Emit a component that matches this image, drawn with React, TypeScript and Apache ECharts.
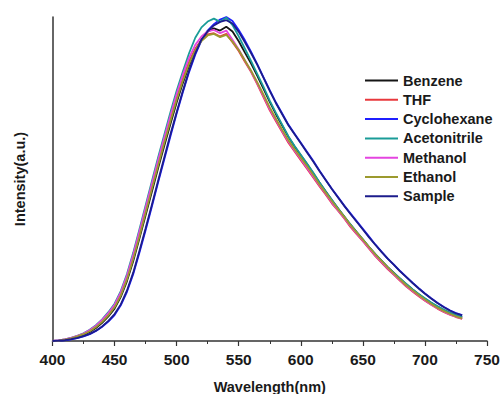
import React, { useEffect, useRef } from "react";
import * as echarts from "echarts";

const wavelengths: number[] = [];
for (let w = 400; w <= 730; w += 5) wavelengths.push(w);

const seriesNames = ["Benzene", "THF", "Cyclohexane", "Acetonitrile", "Methanol", "Ethanol", "Sample"];
const seriesColors = ["#151515", "#e8383d", "#1f1fff", "#1a9c98", "#e445e0", "#9c9a2e", "#1c1c8c"];

const benzene = [
  0.000, 0.001, 0.003, 0.007, 0.012, 0.019, 0.028, 0.040, 0.056, 0.076,
  0.100, 0.136, 0.185, 0.246, 0.316, 0.388, 0.460, 0.532, 0.602, 0.670,
  0.736, 0.796, 0.850, 0.898, 0.930, 0.955, 0.965, 0.958, 0.970, 0.955,
  0.925, 0.890, 0.856, 0.818, 0.778, 0.738, 0.700, 0.665, 0.630, 0.600,
  0.573, 0.546, 0.518, 0.489, 0.462, 0.435, 0.409, 0.384, 0.359, 0.336,
  0.313, 0.290, 0.268, 0.248, 0.228, 0.210, 0.192, 0.175, 0.159, 0.144,
  0.130, 0.118, 0.106, 0.096, 0.087, 0.079, 0.073,
];
const thf = [
  0.000, 0.002, 0.005, 0.009, 0.015, 0.022, 0.032, 0.045, 0.062, 0.083,
  0.108, 0.145, 0.196, 0.260, 0.330, 0.404, 0.478, 0.550, 0.620, 0.688,
  0.754, 0.812, 0.862, 0.902, 0.928, 0.946, 0.950, 0.940, 0.948, 0.922,
  0.895, 0.862, 0.830, 0.792, 0.752, 0.712, 0.678, 0.645, 0.612, 0.585,
  0.558, 0.532, 0.505, 0.478, 0.452, 0.425, 0.402, 0.378, 0.352, 0.330,
  0.308, 0.285, 0.262, 0.242, 0.222, 0.204, 0.186, 0.168, 0.153, 0.138,
  0.124, 0.112, 0.100, 0.090, 0.081, 0.074, 0.068,
];
const cyclohexane = [
  0.000, 0.001, 0.002, 0.005, 0.009, 0.014, 0.021, 0.031, 0.044, 0.060,
  0.080, 0.110, 0.152, 0.206, 0.272, 0.342, 0.414, 0.488, 0.560, 0.632,
  0.702, 0.768, 0.830, 0.884, 0.928, 0.958, 0.978, 0.992, 1.000, 0.988,
  0.960, 0.928, 0.892, 0.854, 0.814, 0.774, 0.736, 0.702, 0.668, 0.640,
  0.612, 0.584, 0.556, 0.526, 0.498, 0.470, 0.444, 0.418, 0.394, 0.370,
  0.346, 0.322, 0.298, 0.276, 0.254, 0.236, 0.216, 0.198, 0.180, 0.163,
  0.147, 0.132, 0.118, 0.106, 0.095, 0.086, 0.080,
];
const acetonitrile = [
  0.000, 0.002, 0.005, 0.010, 0.016, 0.024, 0.035, 0.049, 0.067, 0.089,
  0.115, 0.154, 0.207, 0.272, 0.344, 0.418, 0.492, 0.566, 0.636, 0.706,
  0.772, 0.832, 0.888, 0.936, 0.968, 0.986, 0.995, 0.985, 0.998, 0.975,
  0.940, 0.902, 0.864, 0.824, 0.784, 0.742, 0.704, 0.668, 0.632, 0.602,
  0.575, 0.548, 0.520, 0.490, 0.462, 0.436, 0.410, 0.384, 0.360, 0.336,
  0.314, 0.290, 0.268, 0.248, 0.228, 0.210, 0.193, 0.176, 0.160, 0.145,
  0.132, 0.119, 0.108, 0.097, 0.088, 0.080, 0.074,
];
const methanol = [
  0.000, 0.002, 0.005, 0.010, 0.016, 0.023, 0.034, 0.047, 0.065, 0.086,
  0.112, 0.150, 0.202, 0.266, 0.338, 0.411, 0.485, 0.557, 0.627, 0.696,
  0.762, 0.822, 0.874, 0.914, 0.940, 0.956, 0.960, 0.950, 0.958, 0.930,
  0.900, 0.866, 0.832, 0.795, 0.756, 0.716, 0.682, 0.648, 0.616, 0.588,
  0.562, 0.535, 0.508, 0.481, 0.455, 0.428, 0.404, 0.380, 0.355, 0.332,
  0.310, 0.287, 0.264, 0.244, 0.224, 0.206, 0.188, 0.170, 0.155, 0.140,
  0.126, 0.113, 0.101, 0.091, 0.082, 0.075, 0.069,
];
const ethanol = [
  0.000, 0.001, 0.004, 0.008, 0.014, 0.021, 0.030, 0.043, 0.059, 0.079,
  0.104, 0.140, 0.190, 0.252, 0.322, 0.395, 0.468, 0.540, 0.610, 0.678,
  0.744, 0.803, 0.855, 0.897, 0.926, 0.943, 0.948, 0.938, 0.945, 0.924,
  0.898, 0.866, 0.834, 0.798, 0.760, 0.721, 0.686, 0.652, 0.620, 0.592,
  0.566, 0.540, 0.512, 0.484, 0.458, 0.432, 0.407, 0.383, 0.358, 0.335,
  0.313, 0.290, 0.267, 0.247, 0.227, 0.208, 0.190, 0.172, 0.157, 0.142,
  0.128, 0.115, 0.103, 0.093, 0.084, 0.076, 0.070,
];
const sample = [
  0.000, 0.001, 0.003, 0.006, 0.010, 0.015, 0.022, 0.032, 0.045, 0.062,
  0.083, 0.113, 0.156, 0.211, 0.278, 0.348, 0.420, 0.494, 0.566, 0.638,
  0.706, 0.772, 0.834, 0.888, 0.930, 0.956, 0.974, 0.985, 0.990, 0.980,
  0.954, 0.922, 0.888, 0.852, 0.812, 0.772, 0.734, 0.700, 0.666, 0.638,
  0.610, 0.582, 0.554, 0.525, 0.497, 0.469, 0.443, 0.417, 0.392, 0.368,
  0.344, 0.320, 0.297, 0.275, 0.254, 0.235, 0.215, 0.197, 0.179, 0.162,
  0.146, 0.131, 0.117, 0.105, 0.094, 0.085, 0.079,
];

const seriesValues = [benzene, thf, cyclohexane, acetonitrile, methanol, ethanol, sample];

const FONT = "'Liberation Sans', Arial, Helvetica, sans-serif";

export default function App() {
  const ref = useRef<HTMLDivElement>(null);
  useEffect(() => {
    if (!ref.current) return;
    const chart = echarts.init(ref.current, undefined, { renderer: "svg" });
    chart.setOption({
      animation: false,
      backgroundColor: "#ffffff",
      grid: { left: 52.5, right: 15, top: 17, bottom: 53, containLabel: false, outerBoundsMode: "none" },
      legend: {
        orient: "vertical",
        left: 365,
        top: 73,
        padding: 0,
        icon: "rect",
        itemWidth: 33,
        itemHeight: 2,
        itemGap: 4.3,
        data: seriesNames,
        textStyle: { fontFamily: FONT, fontWeight: "bold", fontSize: 14.5, color: "#1a1a1a", lineHeight: 14.5 },
      },
      xAxis: {
        type: "value",
        min: 400,
        max: 750,
        interval: 50,
        name: "Wavelength(nm)",
        nameLocation: "middle",
        nameGap: 38,
        nameTextStyle: { fontFamily: FONT, fontWeight: "bold", fontSize: 14.5, color: "#1a1a1a" },
        axisLine: { lineStyle: { color: "#333", width: 1.5 } },
        axisTick: { show: true, inside: false, length: 5, lineStyle: { color: "#333", width: 1.2 } },
        minorTick: { show: true, splitNumber: 2, length: 3, lineStyle: { color: "#333", width: 1 } },
        axisLabel: { fontFamily: FONT, fontWeight: "bold", fontSize: 15.5, color: "#1a1a1a", margin: 10 },
        splitLine: { show: false },
      },
      yAxis: {
        type: "value",
        min: 0,
        max: 1,
        name: "Intensity(a.u.)",
        nameLocation: "middle",
        nameGap: 25,
        nameTextStyle: { fontFamily: FONT, fontWeight: "bold", fontSize: 14.5, color: "#1a1a1a" },
        axisLine: { show: true, lineStyle: { color: "#333", width: 1.5 } },
        axisTick: { show: false },
        axisLabel: { show: false },
        splitLine: { show: false },
      },
      series: seriesNames.map((name, i) => ({
        name,
        type: "line",
        symbol: "none",
        smooth: false,
        color: seriesColors[i],
        lineStyle: { width: 1.8, color: seriesColors[i] },
        data: wavelengths.map((w, j) => [w, seriesValues[i][j]]),
      })),
    });
    return () => chart.dispose();
  }, []);
  return <div ref={ref} style={{ width: 502, height: 394, position: "absolute", left: 0, top: 0 }} />;
}
